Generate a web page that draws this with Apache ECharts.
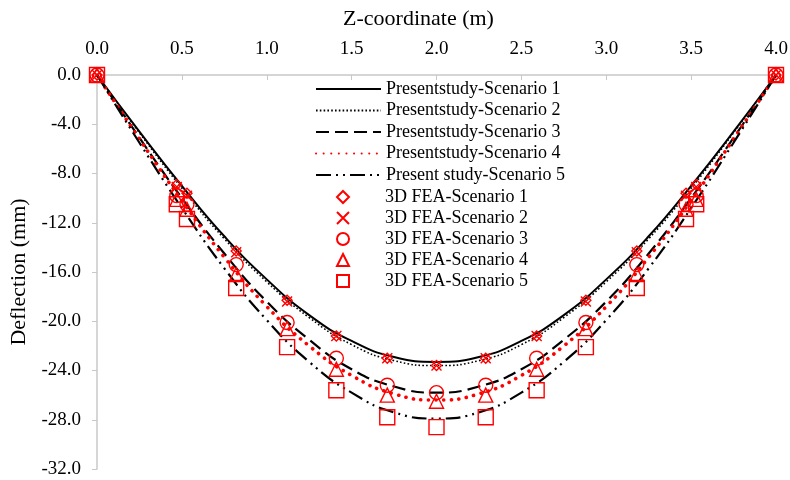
<!DOCTYPE html>
<html>
<head>
<meta charset="utf-8">
<script src="https://cdn.jsdelivr.net/npm/echarts@6/dist/echarts.min.js"></script>
<style>
  html, body { margin: 0; padding: 0; background: #fff; }
  #chart { width: 790px; height: 480px; }
</style>
</head>
<body>
<div id="chart"></div>
<script>
// Beam deflection along the span: analytical curves and 3D FEA results
const zLine = [0, 0.25, 0.5, 0.75, 1.0, 1.25, 1.5, 1.75, 2.0, 2.25, 2.5, 2.75, 3.0, 3.25, 3.5, 3.75, 4.0];
const study1 = [0, -4.6, -9.0, -13.1, -16.6, -19.5, -21.6, -22.9, -23.3, -22.9, -21.6, -19.5, -16.6, -13.1, -9.0, -4.6, 0];
const study2 = [0, -4.7, -9.2, -13.3, -16.8, -19.7, -21.9, -23.2, -23.6, -23.2, -21.9, -19.7, -16.8, -13.3, -9.2, -4.7, 0];
const study3 = [0, -5.1, -10.0, -14.5, -18.4, -21.5, -23.9, -25.3, -25.8, -25.3, -23.9, -21.5, -18.4, -14.5, -10.0, -5.1, 0];
const study4 = [0, -5.2, -10.2, -14.8, -18.8, -22.0, -24.4, -25.9, -26.4, -25.9, -24.4, -22.0, -18.8, -14.8, -10.2, -5.2, 0];
const study5 = [0, -5.5, -10.8, -15.7, -19.9, -23.3, -25.8, -27.4, -27.9, -27.4, -25.8, -23.3, -19.9, -15.7, -10.8, -5.5, 0];

const zFea = [0, 0.47, 0.53, 0.82, 1.12, 1.41, 1.71, 2.0, 2.29, 2.59, 2.88, 3.18, 3.47, 3.53, 4.0];
const fea1 = [0, -8.9, -9.6, -14.3, -18.3, -21.2, -23.0, -23.6, -23.0, -21.2, -18.3, -14.3, -9.6, -8.9, 0];
const fea2 = [0, -9.1, -9.8, -14.4, -18.4, -21.2, -23.0, -23.6, -23.0, -21.2, -18.4, -14.4, -9.8, -9.1, 0];
const fea3 = [0, -9.8, -10.5, -15.4, -20.1, -23.0, -25.2, -25.8, -25.2, -23.0, -20.1, -15.4, -10.5, -9.8, 0];
const fea4 = [0, -10.1, -10.9, -16.2, -20.6, -23.9, -26.0, -26.5, -26.0, -23.9, -20.6, -16.2, -10.9, -10.1, 0];
const fea5 = [0, -10.5, -11.7, -17.3, -22.1, -25.6, -27.8, -28.6, -27.8, -25.6, -22.1, -17.3, -11.7, -10.5, 0];

const lineNames = ['Presentstudy-Scenario 1', 'Presentstudy-Scenario 2', 'Presentstudy-Scenario 3',
                   'Presentstudy-Scenario 4', 'Present study-Scenario 5'];
const feaNames = ['3D FEA-Scenario 1', '3D FEA-Scenario 2', '3D FEA-Scenario 3',
                  '3D FEA-Scenario 4', '3D FEA-Scenario 5'];

const FONT = '"Liberation Serif", "Times New Roman", serif';
const RED = '#ff0000';

const zip = (xs, ys) => xs.map((x, i) => [x, ys[i]]);

const lineStyles = [
  { color: '#000', width: 2, type: 'solid' },
  { color: '#000', width: 1.6, type: [1.6, 2.2] },
  { color: '#000', width: 2.2, type: [13, 6] },
  { color: RED, width: 3.6, type: [0.1, 7.5], cap: 'round' },
  { color: '#000', width: 2.2, type: [15, 5, 2, 5, 2, 5] }
];
const lineData = [study1, study2, study3, study4, study5];

// hollow marker outlines as paths so the legend keeps their aspect ratio
const feaSymbols = [
  'path://M5,0L10,5L5,10L0,5Z',
  'path://M0,0L10,10M0,10L10,0',
  'path://M10,5A5,5,0,1,1,0,5A5,5,0,1,1,10,5Z',
  'path://M5,0L10,10L0,10Z',
  'path://M0,0L10,0L10,10L0,10Z'
];
const feaSizes = [10, 10, 14, 14, 15];
const feaData = [fea1, fea2, fea3, fea4, fea5];

const series = [];
lineData.forEach((d, i) => {
  series.push({
    name: lineNames[i],
    type: 'line',
    data: zip(zLine, d),
    smooth: true,
    symbol: 'none',
    lineStyle: lineStyles[i],
    itemStyle: { color: lineStyles[i].color },
    z: 2
  });
});
feaData.forEach((d, i) => {
  series.push({
    name: feaNames[i],
    type: 'scatter',
    data: zip(zFea, d),
    symbol: feaSymbols[i],
    symbolSize: feaSizes[i],
    itemStyle: { color: 'rgba(0,0,0,0)', borderColor: RED, borderWidth: 1.4, opacity: 1 },
    z: 3
  });
});

const legendText = { fontFamily: FONT, fontSize: 18, color: '#000' };

const chart = echarts.init(document.getElementById('chart'), null, { renderer: 'canvas' });
chart.setOption({
  animation: false,
  backgroundColor: '#fff',
  grid: { left: 97, right: 14, top: 75, bottom: 11, containLabel: false, outerBoundsMode: 'none' },
  legend: [
    {
      orient: 'vertical',
      left: 315,
      top: 80,
      itemWidth: 65,
      itemHeight: 14,
      itemGap: 3.5,
      padding: 0,
      textStyle: legendText,
      data: lineNames.map(n => ({ name: n, itemStyle: { opacity: 0 } }))
    },
    {
      orient: 'vertical',
      left: 336,
      top: 188,
      itemWidth: 74,
      itemHeight: 12,
      itemGap: 3,
      padding: 0,
      textStyle: legendText,
      data: feaNames
    }
  ],
  xAxis: {
    type: 'value',
    position: 'top',
    min: 0,
    max: 4,
    interval: 0.5,
    name: 'Z-coordinate (m)',
    nameLocation: 'middle',
    nameGap: 45,
    nameTextStyle: { fontFamily: FONT, fontSize: 22, color: '#000', padding: [0, 36, 0, 0] },
    axisLine: { show: true, lineStyle: { color: '#c8c8c8', width: 1.5 } },
    axisTick: { show: true, inside: true, length: 5, lineStyle: { color: '#c8c8c8' } },
    axisLabel: { fontFamily: FONT, fontSize: 19, color: '#000', margin: 16,
                 formatter: v => v.toFixed(1) },
    splitLine: { show: false }
  },
  yAxis: {
    type: 'value',
    min: -32,
    max: 0,
    interval: 4,
    name: 'Deflection (mm)',
    nameLocation: 'middle',
    nameGap: 66,
    nameTextStyle: { fontFamily: FONT, fontSize: 22, color: '#000' },
    axisLine: { show: true, lineStyle: { color: '#c8c8c8', width: 1.5 } },
    axisTick: { show: true, length: 5, lineStyle: { color: '#c8c8c8' } },
    axisLabel: { fontFamily: FONT, fontSize: 19, color: '#000', margin: 16,
                 formatter: v => v.toFixed(1) },
    splitLine: { show: false }
  },
  series: series
});
</script>
</body>
</html>
